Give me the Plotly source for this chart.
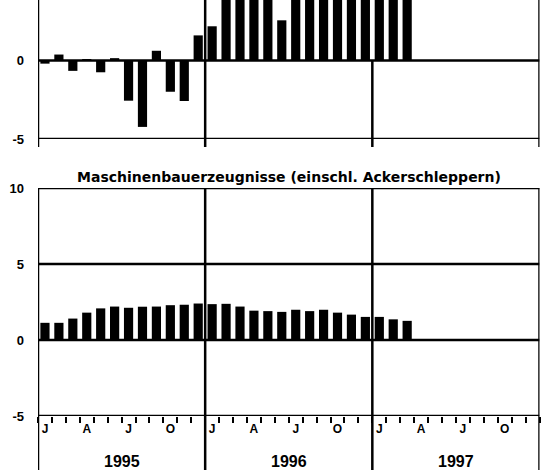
import plotly.graph_objects as go

# Month index 0 = Jan 1995 ... 35 = Dec 1997
months = list(range(27))  # data through Mar 1997
top_values = [-0.2, 0.38, -0.66, 0.05, -0.75, 0.15, -2.56, -4.23, 0.62, -1.99, -2.58, 1.6,
              2.18, 5.2, 6.0, 5.6, 6.3, 2.56, 5.8, 6.6, 6.1, 5.4, 6.8, 7.2, 6.4, 5.9, 6.2]
bottom_values = [1.13, 1.13, 1.41, 1.8, 2.08, 2.2, 2.12, 2.19, 2.2, 2.29, 2.32, 2.4,
                 2.36, 2.38, 2.2, 1.93, 1.9, 1.85, 1.99, 1.9, 1.99, 1.8, 1.67, 1.52,
                 1.52, 1.36, 1.26]
month_tickvals = [0, 3, 6, 9, 12, 15, 18, 21, 24, 27, 30, 33]
month_ticktext = ["J", "A", "J", "O"] * 3
years = ["1995", "1996", "1997"]
year_centers = [5.5, 17.5, 29.5]
title_text = "Maschinenbauerzeugnisse (einschl. Ackerschleppern)"

W, H = 541, 472
def py(pix):
    return 1 - pix / H

FONT = "Liberation Sans"
LW = 2.5

fig = go.Figure()
fig.add_trace(go.Bar(x=months, y=top_values, width=0.66, marker=dict(color="black", line=dict(width=0)),
                     xaxis="x", yaxis="y", showlegend=False, hoverinfo="skip"))
fig.add_trace(go.Bar(x=months, y=bottom_values, width=0.66, marker=dict(color="black", line=dict(width=0)),
                     xaxis="x2", yaxis="y2", showlegend=False, hoverinfo="skip"))

xdom = [38 / W, 539.5 / W]
top_range = [-5, 3.854]
fig.update_layout(
    width=W, height=H,
    margin=dict(l=0, r=0, t=0, b=0),
    template="none",
    paper_bgcolor="white", plot_bgcolor="rgba(0,0,0,0)",
    showlegend=False,
    xaxis=dict(domain=xdom, range=[-0.5, 35.5], showgrid=False, zeroline=False,
               showticklabels=False, ticks="", showline=False, anchor="y"),
    yaxis=dict(domain=[py(139), 1], range=top_range, tickvals=[-5, 0], ticktext=["-5", "0"],
               showgrid=False, zeroline=False, showline=False, ticks="",
               ticklabelstandoff=13,
               tickfont=dict(family=FONT, size=13, weight="bold", color="black"), anchor="x"),
    xaxis2=dict(domain=xdom, range=[-0.5, 35.5], showgrid=False, zeroline=False,
                tickvals=month_tickvals, ticktext=month_ticktext, ticks="",
                ticklabelstandoff=4,
                tickfont=dict(family=FONT, size=12, weight="bold", color="black"),
                minor=dict(tickmode="linear", tick0=-0.5, dtick=1, ticks="outside", ticklen=6,
                           tickwidth=2, tickcolor="black", showgrid=False),
                showline=False, anchor="y2"),
    yaxis2=dict(domain=[py(416), py(188)], range=[-5, 10], tickvals=[-5, 0, 5, 10],
                ticktext=["-5", "0", "5", "10"],
                showgrid=False, zeroline=False, showline=False, ticks="",
                ticklabelstandoff=13,
                tickfont=dict(family=FONT, size=13, weight="bold", color="black"), anchor="x2"),
)

shapes = []
line = dict(color="black", width=LW)
# top panel horizontal lines
for v in [0, -5]:
    shapes.append(dict(type="line", xref="x", yref="y", x0=-0.5, x1=35.5, y0=v, y1=v, line=line))
# top panel vertical lines
for xv, ytop in [(-0.5, 0), (11.5, 0), (23.5, 60.5), (35.5, 0)]:
    shapes.append(dict(type="line", xref="x", yref="paper", x0=xv, x1=xv, y0=py(ytop), y1=py(147), line=line))
# bottom panel horizontal lines
for v in [10, 5, 0, -5]:
    shapes.append(dict(type="line", xref="x2", yref="y2", x0=-0.5, x1=35.5, y0=v, y1=v, line=line))
# bottom panel vertical lines (extend through the label area)
for xv in [-0.5, 11.5, 23.5, 35.5]:
    shapes.append(dict(type="line", xref="x2", yref="paper", x0=xv, x1=xv, y0=py(188), y1=py(470), line=line))
fig.update_layout(shapes=shapes)

annotations = [dict(text=title_text, xref="paper", yref="paper", x=(xdom[0] + xdom[1]) / 2, y=py(177),
                    showarrow=False, xanchor="center", yanchor="middle",
                    font=dict(family="DejaVu Sans", size=14, weight="bold", color="black"))]
for yr, xc in zip(years, year_centers):
    annotations.append(dict(text=yr, xref="x2", yref="paper", x=xc, y=py(461), showarrow=False,
                            xanchor="center", yanchor="middle",
                            font=dict(family=FONT, size=16, weight="bold", color="black")))
fig.update_layout(annotations=annotations)

fig.write_html("out.html", config={"displayModeBar": False},
               post_script="document.body.style.margin='0';")
